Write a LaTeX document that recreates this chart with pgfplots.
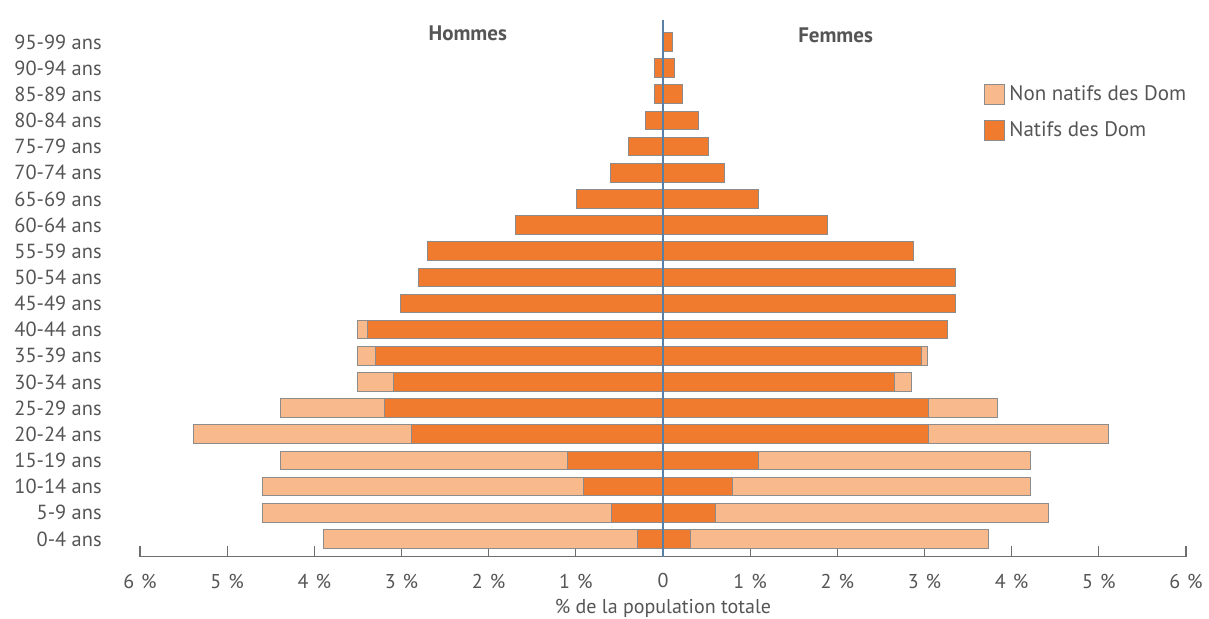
\documentclass[border=0pt]{standalone}
\usepackage{fontspec}
\setmainfont{PT Sans}
\usepackage{pgfplots}
\usepackage{pgfplotstable}
\pgfplotsset{compat=1.18}

\definecolor{natif}{HTML}{F07A2E}
\definecolor{nonnatif}{HTML}{F8B98C}
\definecolor{txt}{HTML}{555555}
\definecolor{edge}{HTML}{8C8C8C}
\definecolor{axe}{HTML}{5A80A5}

% y: 0 = 0-4 ans ... 19 = 95-99 ans ; hommes en negatif
\pgfplotstableread{
y  mtot   mnat   ftot  fnat
0  -3.89  -0.29  3.73  0.31
1  -4.59  -0.59  4.42  0.60
2  -4.59  -0.91  4.22  0.80
3  -4.39  -1.10  4.22  1.10
4  -5.39  -2.89  5.11  3.05
5  -4.39  -3.20  3.84  3.05
6  -3.50  -3.09  2.85  2.66
7  -3.50  -3.30  3.04  2.96
8  -3.50  -3.39  3.26  3.26
9  -3.01  -3.01  3.35  3.35
10 -2.80  -2.80  3.36  3.36
11 -2.70  -2.70  2.87  2.87
12 -1.69  -1.69  1.89  1.89
13 -0.99  -0.99  1.10  1.10
14 -0.60  -0.60  0.71  0.71
15 -0.40  -0.40  0.52  0.52
16 -0.20  -0.20  0.41  0.41
17 -0.10  -0.10  0.22  0.22
18 -0.10  -0.10  0.13  0.13
19  0.00   0.00  0.11  0.11
}\pyramide

\newcommand{\pc}[1]{#1\hspace{0.35em}\%}

\begin{document}
\begin{tikzpicture}
\begin{axis}[
  scale only axis, width=523pt, height=268.35pt,
  xmin=-6, xmax=6, ymin=-0.68, ymax=19.84,
  clip=false,
  axis x line=bottom, axis y line=left,
  x axis line style={-, draw=txt!85, line width=0.6pt},
  y axis line style={draw=none},
  xtick={-6,...,6},
  xticklabels={\pc{6},\pc{5},\pc{4},\pc{3},\pc{2},\pc{1},0,\pc{1},\pc{2},\pc{3},\pc{4},\pc{5},\pc{6}},
  xtick align=inside, major tick length=5.5pt,
  xtick style={draw=txt!85, line width=0.6pt},
  ytick={0,...,19},
  yticklabels={0-4 ans,5-9 ans,10-14 ans,15-19 ans,20-24 ans,25-29 ans,30-34 ans,35-39 ans,40-44 ans,45-49 ans,50-54 ans,55-59 ans,60-64 ans,65-69 ans,70-74 ans,75-79 ans,80-84 ans,85-89 ans,90-94 ans,95-99 ans},
  ytick style={draw=none},
  yticklabel style={anchor=east, inner sep=0pt, xshift=-13.5pt, font=\fontsize{10.2}{12}\selectfont},
  xticklabel style={yshift=-5pt, font=\fontsize{10}{12}\selectfont},
  tick label style={text=txt},
  xbar, bar shift=0pt, bar width=0.71,
  every axis plot/.append style={draw=edge, line width=0.5pt},
  legend style={at={(0.8069,0.8865)}, anchor=north west, draw=none, fill=none,
    font=\fontsize{10.5}{12}\selectfont, text=txt, row sep=5pt, inner sep=0pt,
    legend cell align=left},
  legend image code/.code={\draw[#1, draw=edge] (0pt,-5pt) rectangle (10pt,5pt);},
]
\addplot[fill=nonnatif] table[x=ftot, y=y] {\pyramide};
\addlegendentry{Non natifs des Dom}
\addplot[fill=natif] table[x=fnat, y=y] {\pyramide};
\addlegendentry{Natifs des Dom}
\addplot[fill=nonnatif, forget plot] table[x=mtot, y=y] {\pyramide};
\addplot[fill=natif, forget plot] table[x=mnat, y=y] {\pyramide};

\draw[axe, line width=0.6pt] (axis cs:0,-0.68) -- (axis cs:0,19.84);
\node[font=\bfseries\fontsize{10.5}{12}\selectfont, text=txt] at (axis cs:-2.24,19.35) {Hommes};
\node[font=\bfseries\fontsize{10.5}{12}\selectfont, text=txt] at (axis cs:1.98,19.25) {Femmes};
\node[font=\fontsize{10}{12}\selectfont, text=txt] at (rel axis cs:0.5,-0.0956) {\% de la population totale};
\end{axis}
\pgfresetboundingbox
\path ([xshift=-70pt, yshift=-31.15pt]current axis.south west) rectangle ([xshift=11.5pt, yshift=10pt]current axis.north east);
\end{tikzpicture}
\end{document}
